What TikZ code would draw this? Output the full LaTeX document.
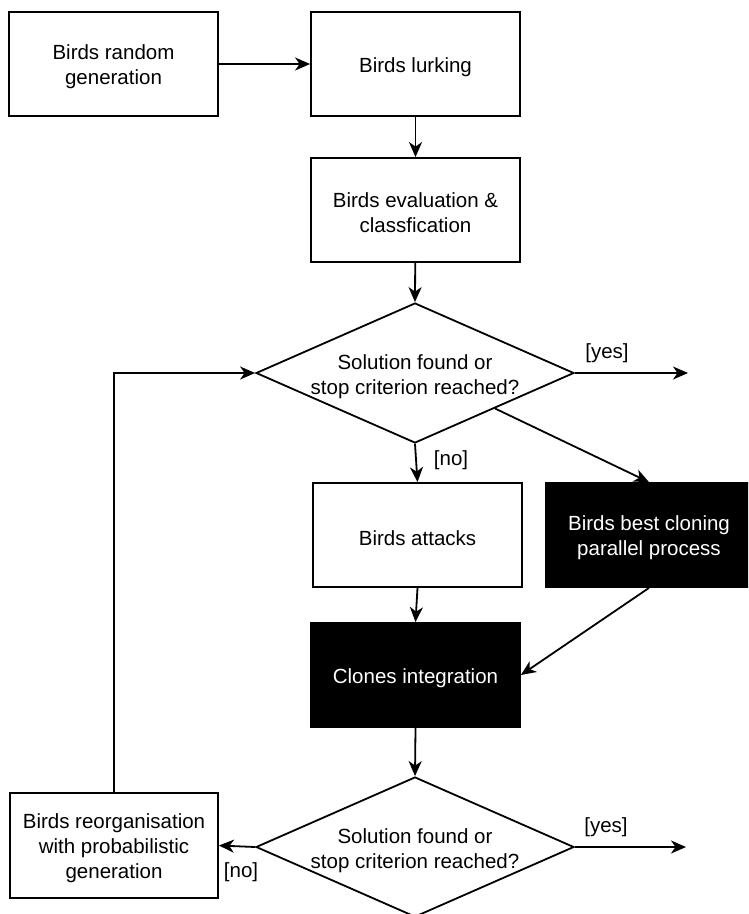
\documentclass[tikz,border=0pt]{standalone}
\usepackage{fontspec}
\setmainfont{Liberation Sans}
\usetikzlibrary{arrows.meta,shapes.geometric}
\begin{document}
\begin{tikzpicture}[x={(1pt,0)},y={(0,-1pt)},
  every node/.style={font=\fontsize{20.5}{25}\selectfont},
  box/.style={draw=black,line width=1.8pt,fill=white,minimum width=209pt,minimum height=104pt,inner sep=0pt},
  blackbox/.style={box,fill=black},
  dia/.style={draw=black,line width=1.8pt,diamond,minimum width=318pt,minimum height=140pt,inner sep=0pt},
  txt/.style={align=center,inner sep=0pt,yshift=-3pt},
  wtxt/.style={txt,text=white},
  lbl/.style={inner sep=0pt},
  arr/.style={line width=1.8pt,-{Stealth[length=15pt,width=13pt,inset=4.5pt]}}]
\useasboundingbox (0,0) rectangle (748,914);
\clip (0,0) rectangle (748,914);

\node[box] (rg) at (113.5,64) {};
\node[txt] (rgt) at (rg) {Birds random\\generation};
\node[box] (lurk) at (415.5,64) {};
\node[txt] (lurkt) at (lurk) {Birds lurking};
\node[box] (eval) at (415.5,210) {};
\node[txt] (evalt) at (eval) {Birds evaluation \&\\classfication};
\node[dia] (d1) at (415,373) {};
\node[txt] (d1t) at (415,374) {Solution found or\\stop criterion reached?};
\node[box] (att) at (417.5,535) {};
\node[txt] (attt) at (att) {Birds attacks};
\node[blackbox,minimum width=206pt] (best) at (649,535) {};
\node[wtxt] (bestt) at (best) {Birds best cloning\\parallel process};
\node[blackbox] (clo) at (415.5,675) {};
\node[wtxt] (clot) at (clo) {Clones integration};
\node[dia] (d2) at (415,847) {};
\node[txt] (d2t) at (415,848) {Solution found or\\stop criterion reached?};
\node[box,minimum width=208pt,minimum height=105pt] (reorg) at (114,845.5) {};
\node[txt] (reorgt) at (reorg) {Birds reorganisation\\with probabilistic\\generation};

\coordinate (y1) at (688,373);
\coordinate (y2) at (686,847);

\draw[arr] (rg) -- (lurk);
\draw[arr] (lurk) -- (eval);
\draw[arr] (eval) -- (d1.north);
\draw[arr] (d1.east) -- (y1);
\node[lbl] (yes1) at (607,353) {[yes]};
\draw[arr] (d1.south) -- (att.north);
\node[lbl] (no1) at (451,460) {[no]};
\draw[arr] (d1.south east) -- (best.north);
\draw[arr] (att.south) -- (clo.north);
\draw[arr] (best.south) -- (clo.east);
\draw[arr] (clo.south) -- (d2.north);
\draw[arr] (d2.east) -- (y2);
\node[lbl] (yes2) at (606,827) {[yes]};
\draw[arr] (d2.west) -- (reorg.east);
\node[lbl] (no2) at (241,872) {[no]};
\draw[arr] (reorg.north) |- (d1.west);
\end{tikzpicture}
\end{document}
